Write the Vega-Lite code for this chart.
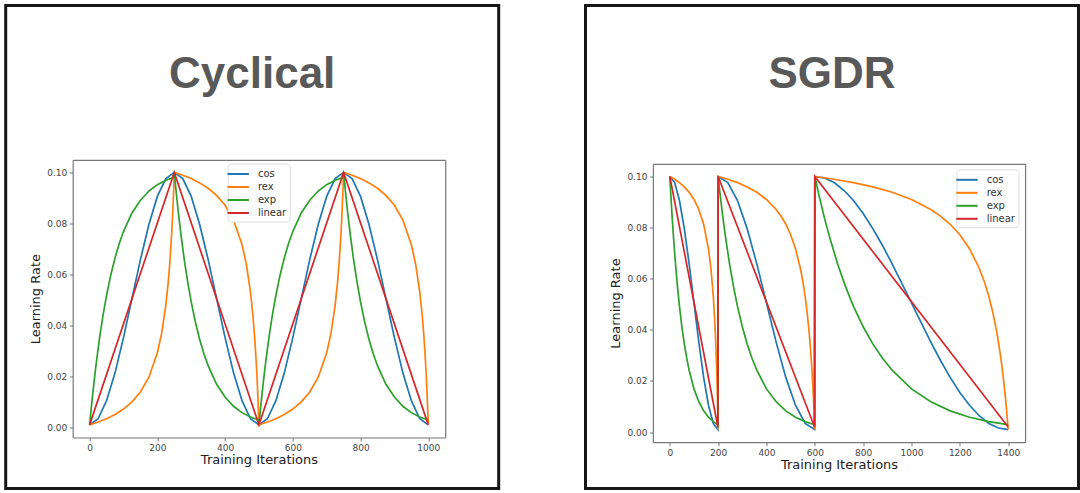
{
  "$schema": "https://vega.github.io/schema/vega-lite/v6.json",
  "background": "white",
  "padding": {"left": 3.7, "top": 3.5, "right": 0, "bottom": 0},
  "spacing": 82.8,
  "config": {
    "view": {"stroke": "#161616", "strokeWidth": 3},
    "font": "DejaVu Sans",
    "axis": {"grid": false, "domainColor": "#777777", "domainWidth": 1.2, "tickColor": "#777777", "tickSize": 3.5, "tickWidth": 1, "labelFont": "DejaVu Sans", "labelFontSize": 9, "labelColor": "#444444", "labelPadding": 2.5, "titleFont": "DejaVu Sans", "titleFontSize": 13, "titleFontWeight": "normal", "titleColor": "#222222", "titlePadding": 1},
    "legend": {"title": null, "orient": "none", "symbolType": "M-1.75,0H1.75", "symbolSize": 150, "symbolStrokeWidth": 2, "labelFont": "DejaVu Sans", "labelFontSize": 10, "labelColor": "#333333", "strokeColor": "#dddddd", "fillColor": "white", "cornerRadius": 3, "padding": 3, "rowPadding": -2.5, "labelOffset": 12.2},
    "title": {"font": "Liberation Sans", "fontSize": 44, "fontWeight": "bold", "color": "#595959", "anchor": "middle", "frame": "group", "baseline": "alphabetic", "offset": 0, "dy": 95}
  },
  "resolve": {"scale": {"color": "independent"}},
  "datasets": {
    "cyclical": [
      {"schedule": "cos", "iter": 0, "lr": 0.001}, {"schedule": "cos", "iter": 25, "lr": 0.0034}, {"schedule": "cos", "iter": 50, "lr": 0.0105}, {"schedule": "cos", "iter": 75, "lr": 0.0214}, {"schedule": "cos", "iter": 100, "lr": 0.0352}, {"schedule": "cos", "iter": 125, "lr": 0.0505}, {"schedule": "cos", "iter": 150, "lr": 0.0658}, {"schedule": "cos", "iter": 175, "lr": 0.0796}, {"schedule": "cos", "iter": 200, "lr": 0.0906}, {"schedule": "cos", "iter": 225, "lr": 0.0976}, {"schedule": "cos", "iter": 250, "lr": 0.1},
      {"schedule": "cos", "iter": 275, "lr": 0.0976}, {"schedule": "cos", "iter": 300, "lr": 0.0906}, {"schedule": "cos", "iter": 325, "lr": 0.0796}, {"schedule": "cos", "iter": 350, "lr": 0.0658}, {"schedule": "cos", "iter": 375, "lr": 0.0505}, {"schedule": "cos", "iter": 400, "lr": 0.0352}, {"schedule": "cos", "iter": 425, "lr": 0.0214}, {"schedule": "cos", "iter": 450, "lr": 0.0105}, {"schedule": "cos", "iter": 475, "lr": 0.0034}, {"schedule": "cos", "iter": 500, "lr": 0.001},
      {"schedule": "cos", "iter": 525, "lr": 0.0034}, {"schedule": "cos", "iter": 550, "lr": 0.0105}, {"schedule": "cos", "iter": 575, "lr": 0.0214}, {"schedule": "cos", "iter": 600, "lr": 0.0352}, {"schedule": "cos", "iter": 625, "lr": 0.0505}, {"schedule": "cos", "iter": 650, "lr": 0.0658}, {"schedule": "cos", "iter": 675, "lr": 0.0796}, {"schedule": "cos", "iter": 700, "lr": 0.0906}, {"schedule": "cos", "iter": 725, "lr": 0.0976}, {"schedule": "cos", "iter": 750, "lr": 0.1},
      {"schedule": "cos", "iter": 775, "lr": 0.0976}, {"schedule": "cos", "iter": 800, "lr": 0.0906}, {"schedule": "cos", "iter": 825, "lr": 0.0796}, {"schedule": "cos", "iter": 850, "lr": 0.0658}, {"schedule": "cos", "iter": 875, "lr": 0.0505}, {"schedule": "cos", "iter": 900, "lr": 0.0352}, {"schedule": "cos", "iter": 925, "lr": 0.0214}, {"schedule": "cos", "iter": 950, "lr": 0.0105}, {"schedule": "cos", "iter": 975, "lr": 0.0034}, {"schedule": "cos", "iter": 1000, "lr": 0.001},

      {"schedule": "rex", "iter": 0, "lr": 0.001}, {"schedule": "rex", "iter": 25, "lr": 0.0021}, {"schedule": "rex", "iter": 50, "lr": 0.0034}, {"schedule": "rex", "iter": 75, "lr": 0.0051}, {"schedule": "rex", "iter": 100, "lr": 0.0072}, {"schedule": "rex", "iter": 125, "lr": 0.01}, {"schedule": "rex", "iter": 150, "lr": 0.0139}, {"schedule": "rex", "iter": 175, "lr": 0.0197}, {"schedule": "rex", "iter": 200, "lr": 0.0293}, {"schedule": "rex", "iter": 212.5, "lr": 0.0368}, {"schedule": "rex", "iter": 225, "lr": 0.0479}, {"schedule": "rex", "iter": 232.5, "lr": 0.0575}, {"schedule": "rex", "iter": 237.5, "lr": 0.0659}, {"schedule": "rex", "iter": 242.5, "lr": 0.0766}, {"schedule": "rex", "iter": 245, "lr": 0.0832}, {"schedule": "rex", "iter": 247.5, "lr": 0.0909}, {"schedule": "rex", "iter": 250, "lr": 0.1},
      {"schedule": "rex", "iter": 275, "lr": 0.0989}, {"schedule": "rex", "iter": 300, "lr": 0.0976}, {"schedule": "rex", "iter": 325, "lr": 0.0959}, {"schedule": "rex", "iter": 350, "lr": 0.0938}, {"schedule": "rex", "iter": 375, "lr": 0.091}, {"schedule": "rex", "iter": 400, "lr": 0.0871}, {"schedule": "rex", "iter": 425, "lr": 0.0813}, {"schedule": "rex", "iter": 450, "lr": 0.0717}, {"schedule": "rex", "iter": 462.5, "lr": 0.0642}, {"schedule": "rex", "iter": 475, "lr": 0.0531}, {"schedule": "rex", "iter": 482.5, "lr": 0.0435}, {"schedule": "rex", "iter": 487.5, "lr": 0.0351}, {"schedule": "rex", "iter": 492.5, "lr": 0.0244}, {"schedule": "rex", "iter": 495, "lr": 0.0178}, {"schedule": "rex", "iter": 497.5, "lr": 0.0101}, {"schedule": "rex", "iter": 500, "lr": 0.001},
      {"schedule": "rex", "iter": 525, "lr": 0.0021}, {"schedule": "rex", "iter": 550, "lr": 0.0034}, {"schedule": "rex", "iter": 575, "lr": 0.0051}, {"schedule": "rex", "iter": 600, "lr": 0.0072}, {"schedule": "rex", "iter": 625, "lr": 0.01}, {"schedule": "rex", "iter": 650, "lr": 0.0139}, {"schedule": "rex", "iter": 675, "lr": 0.0197}, {"schedule": "rex", "iter": 700, "lr": 0.0293}, {"schedule": "rex", "iter": 712.5, "lr": 0.0368}, {"schedule": "rex", "iter": 725, "lr": 0.0479}, {"schedule": "rex", "iter": 732.5, "lr": 0.0575}, {"schedule": "rex", "iter": 737.5, "lr": 0.0659}, {"schedule": "rex", "iter": 742.5, "lr": 0.0766}, {"schedule": "rex", "iter": 745, "lr": 0.0832}, {"schedule": "rex", "iter": 747.5, "lr": 0.0909}, {"schedule": "rex", "iter": 750, "lr": 0.1},
      {"schedule": "rex", "iter": 775, "lr": 0.0989}, {"schedule": "rex", "iter": 800, "lr": 0.0976}, {"schedule": "rex", "iter": 825, "lr": 0.0959}, {"schedule": "rex", "iter": 850, "lr": 0.0938}, {"schedule": "rex", "iter": 875, "lr": 0.091}, {"schedule": "rex", "iter": 900, "lr": 0.0871}, {"schedule": "rex", "iter": 925, "lr": 0.0813}, {"schedule": "rex", "iter": 950, "lr": 0.0717}, {"schedule": "rex", "iter": 962.5, "lr": 0.0642}, {"schedule": "rex", "iter": 975, "lr": 0.0531}, {"schedule": "rex", "iter": 982.5, "lr": 0.0435}, {"schedule": "rex", "iter": 987.5, "lr": 0.0351}, {"schedule": "rex", "iter": 992.5, "lr": 0.0244}, {"schedule": "rex", "iter": 995, "lr": 0.0178}, {"schedule": "rex", "iter": 997.5, "lr": 0.0101}, {"schedule": "rex", "iter": 1000, "lr": 0.001},

      {"schedule": "exp", "iter": 0, "lr": 0.001}, {"schedule": "exp", "iter": 5, "lr": 0.0079}, {"schedule": "exp", "iter": 12.5, "lr": 0.0173}, {"schedule": "exp", "iter": 20, "lr": 0.0257}, {"schedule": "exp", "iter": 30, "lr": 0.0357}, {"schedule": "exp", "iter": 40, "lr": 0.0443}, {"schedule": "exp", "iter": 50, "lr": 0.0518}, {"schedule": "exp", "iter": 62.5, "lr": 0.0598}, {"schedule": "exp", "iter": 75, "lr": 0.0665}, {"schedule": "exp", "iter": 87.5, "lr": 0.0721}, {"schedule": "exp", "iter": 100, "lr": 0.0768}, {"schedule": "exp", "iter": 125, "lr": 0.0841}, {"schedule": "exp", "iter": 150, "lr": 0.0891}, {"schedule": "exp", "iter": 175, "lr": 0.0927}, {"schedule": "exp", "iter": 200, "lr": 0.0952}, {"schedule": "exp", "iter": 225, "lr": 0.0969}, {"schedule": "exp", "iter": 245, "lr": 0.0979}, {"schedule": "exp", "iter": 250, "lr": 0.1},
      {"schedule": "exp", "iter": 255, "lr": 0.0931}, {"schedule": "exp", "iter": 262.5, "lr": 0.0837}, {"schedule": "exp", "iter": 270, "lr": 0.0753}, {"schedule": "exp", "iter": 280, "lr": 0.0653}, {"schedule": "exp", "iter": 290, "lr": 0.0567}, {"schedule": "exp", "iter": 300, "lr": 0.0492}, {"schedule": "exp", "iter": 312.5, "lr": 0.0412}, {"schedule": "exp", "iter": 325, "lr": 0.0345}, {"schedule": "exp", "iter": 337.5, "lr": 0.0289}, {"schedule": "exp", "iter": 350, "lr": 0.0242}, {"schedule": "exp", "iter": 375, "lr": 0.0169}, {"schedule": "exp", "iter": 400, "lr": 0.0119}, {"schedule": "exp", "iter": 425, "lr": 0.0083}, {"schedule": "exp", "iter": 450, "lr": 0.0058}, {"schedule": "exp", "iter": 475, "lr": 0.0041}, {"schedule": "exp", "iter": 499, "lr": 0.0029},
      {"schedule": "exp", "iter": 500, "lr": 0.001}, {"schedule": "exp", "iter": 505, "lr": 0.0079}, {"schedule": "exp", "iter": 512.5, "lr": 0.0173}, {"schedule": "exp", "iter": 520, "lr": 0.0257}, {"schedule": "exp", "iter": 530, "lr": 0.0357}, {"schedule": "exp", "iter": 540, "lr": 0.0443}, {"schedule": "exp", "iter": 550, "lr": 0.0518}, {"schedule": "exp", "iter": 562.5, "lr": 0.0598}, {"schedule": "exp", "iter": 575, "lr": 0.0665}, {"schedule": "exp", "iter": 587.5, "lr": 0.0721}, {"schedule": "exp", "iter": 600, "lr": 0.0768}, {"schedule": "exp", "iter": 625, "lr": 0.0841}, {"schedule": "exp", "iter": 650, "lr": 0.0891}, {"schedule": "exp", "iter": 675, "lr": 0.0927}, {"schedule": "exp", "iter": 700, "lr": 0.0952}, {"schedule": "exp", "iter": 725, "lr": 0.0969}, {"schedule": "exp", "iter": 745, "lr": 0.0979}, {"schedule": "exp", "iter": 750, "lr": 0.1},
      {"schedule": "exp", "iter": 755, "lr": 0.0931}, {"schedule": "exp", "iter": 762.5, "lr": 0.0837}, {"schedule": "exp", "iter": 770, "lr": 0.0753}, {"schedule": "exp", "iter": 780, "lr": 0.0653}, {"schedule": "exp", "iter": 790, "lr": 0.0567}, {"schedule": "exp", "iter": 800, "lr": 0.0492}, {"schedule": "exp", "iter": 812.5, "lr": 0.0412}, {"schedule": "exp", "iter": 825, "lr": 0.0345}, {"schedule": "exp", "iter": 837.5, "lr": 0.0289}, {"schedule": "exp", "iter": 850, "lr": 0.0242}, {"schedule": "exp", "iter": 875, "lr": 0.0169}, {"schedule": "exp", "iter": 900, "lr": 0.0119}, {"schedule": "exp", "iter": 925, "lr": 0.0083}, {"schedule": "exp", "iter": 950, "lr": 0.0058}, {"schedule": "exp", "iter": 975, "lr": 0.0041}, {"schedule": "exp", "iter": 1000, "lr": 0.0029},

      {"schedule": "linear", "iter": 0, "lr": 0.001}, {"schedule": "linear", "iter": 250, "lr": 0.1}, {"schedule": "linear", "iter": 500, "lr": 0.001}, {"schedule": "linear", "iter": 750, "lr": 0.1}, {"schedule": "linear", "iter": 1000, "lr": 0.001}
    ],
    "sgdr": [
      {"schedule": "cos", "iter": 0, "lr": 0.1}, {"schedule": "cos", "iter": 20, "lr": 0.0976}, {"schedule": "cos", "iter": 40, "lr": 0.0906}, {"schedule": "cos", "iter": 60, "lr": 0.0796}, {"schedule": "cos", "iter": 80, "lr": 0.0658}, {"schedule": "cos", "iter": 100, "lr": 0.0505}, {"schedule": "cos", "iter": 120, "lr": 0.0352}, {"schedule": "cos", "iter": 140, "lr": 0.0214}, {"schedule": "cos", "iter": 160, "lr": 0.0105}, {"schedule": "cos", "iter": 180, "lr": 0.0034}, {"schedule": "cos", "iter": 199, "lr": 0.001},
      {"schedule": "cos", "iter": 200, "lr": 0.1}, {"schedule": "cos", "iter": 240, "lr": 0.0976}, {"schedule": "cos", "iter": 280, "lr": 0.0906}, {"schedule": "cos", "iter": 320, "lr": 0.0796}, {"schedule": "cos", "iter": 360, "lr": 0.0658}, {"schedule": "cos", "iter": 400, "lr": 0.0505}, {"schedule": "cos", "iter": 440, "lr": 0.0352}, {"schedule": "cos", "iter": 480, "lr": 0.0214}, {"schedule": "cos", "iter": 520, "lr": 0.0105}, {"schedule": "cos", "iter": 560, "lr": 0.0034}, {"schedule": "cos", "iter": 599, "lr": 0.001},
      {"schedule": "cos", "iter": 600, "lr": 0.1}, {"schedule": "cos", "iter": 640, "lr": 0.0994}, {"schedule": "cos", "iter": 680, "lr": 0.0976}, {"schedule": "cos", "iter": 720, "lr": 0.0946}, {"schedule": "cos", "iter": 760, "lr": 0.0906}, {"schedule": "cos", "iter": 800, "lr": 0.0855}, {"schedule": "cos", "iter": 840, "lr": 0.0796}, {"schedule": "cos", "iter": 880, "lr": 0.073}, {"schedule": "cos", "iter": 920, "lr": 0.0658}, {"schedule": "cos", "iter": 960, "lr": 0.0582}, {"schedule": "cos", "iter": 1000, "lr": 0.0505}, {"schedule": "cos", "iter": 1040, "lr": 0.0428}, {"schedule": "cos", "iter": 1080, "lr": 0.0352}, {"schedule": "cos", "iter": 1120, "lr": 0.028}, {"schedule": "cos", "iter": 1160, "lr": 0.0214}, {"schedule": "cos", "iter": 1200, "lr": 0.0155}, {"schedule": "cos", "iter": 1240, "lr": 0.0105}, {"schedule": "cos", "iter": 1280, "lr": 0.0064}, {"schedule": "cos", "iter": 1320, "lr": 0.0034}, {"schedule": "cos", "iter": 1360, "lr": 0.0016}, {"schedule": "cos", "iter": 1400, "lr": 0.001},

      {"schedule": "rex", "iter": 0, "lr": 0.1}, {"schedule": "rex", "iter": 20, "lr": 0.0989}, {"schedule": "rex", "iter": 40, "lr": 0.0976}, {"schedule": "rex", "iter": 60, "lr": 0.0959}, {"schedule": "rex", "iter": 80, "lr": 0.0938}, {"schedule": "rex", "iter": 100, "lr": 0.091}, {"schedule": "rex", "iter": 120, "lr": 0.0871}, {"schedule": "rex", "iter": 140, "lr": 0.0813}, {"schedule": "rex", "iter": 160, "lr": 0.0717}, {"schedule": "rex", "iter": 170, "lr": 0.0642}, {"schedule": "rex", "iter": 180, "lr": 0.0531}, {"schedule": "rex", "iter": 186, "lr": 0.0435}, {"schedule": "rex", "iter": 190, "lr": 0.0351}, {"schedule": "rex", "iter": 194, "lr": 0.0244}, {"schedule": "rex", "iter": 196, "lr": 0.0178}, {"schedule": "rex", "iter": 198, "lr": 0.0101}, {"schedule": "rex", "iter": 199, "lr": 0.001},
      {"schedule": "rex", "iter": 200, "lr": 0.1}, {"schedule": "rex", "iter": 240, "lr": 0.0989}, {"schedule": "rex", "iter": 280, "lr": 0.0976}, {"schedule": "rex", "iter": 320, "lr": 0.0959}, {"schedule": "rex", "iter": 360, "lr": 0.0938}, {"schedule": "rex", "iter": 400, "lr": 0.091}, {"schedule": "rex", "iter": 440, "lr": 0.0871}, {"schedule": "rex", "iter": 460, "lr": 0.0845}, {"schedule": "rex", "iter": 480, "lr": 0.0813}, {"schedule": "rex", "iter": 500, "lr": 0.0772}, {"schedule": "rex", "iter": 520, "lr": 0.0717}, {"schedule": "rex", "iter": 540, "lr": 0.0642}, {"schedule": "rex", "iter": 552, "lr": 0.0581}, {"schedule": "rex", "iter": 560, "lr": 0.0531}, {"schedule": "rex", "iter": 568, "lr": 0.047}, {"schedule": "rex", "iter": 576, "lr": 0.0396}, {"schedule": "rex", "iter": 580, "lr": 0.0351}, {"schedule": "rex", "iter": 584, "lr": 0.0301}, {"schedule": "rex", "iter": 588, "lr": 0.0244}, {"schedule": "rex", "iter": 592, "lr": 0.0178}, {"schedule": "rex", "iter": 596, "lr": 0.0101}, {"schedule": "rex", "iter": 599, "lr": 0.001},
      {"schedule": "rex", "iter": 600, "lr": 0.1}, {"schedule": "rex", "iter": 680, "lr": 0.0989}, {"schedule": "rex", "iter": 760, "lr": 0.0976}, {"schedule": "rex", "iter": 840, "lr": 0.0959}, {"schedule": "rex", "iter": 920, "lr": 0.0938}, {"schedule": "rex", "iter": 1000, "lr": 0.091}, {"schedule": "rex", "iter": 1080, "lr": 0.0871}, {"schedule": "rex", "iter": 1120, "lr": 0.0845}, {"schedule": "rex", "iter": 1160, "lr": 0.0813}, {"schedule": "rex", "iter": 1200, "lr": 0.0772}, {"schedule": "rex", "iter": 1240, "lr": 0.0717}, {"schedule": "rex", "iter": 1280, "lr": 0.0642}, {"schedule": "rex", "iter": 1304, "lr": 0.0581}, {"schedule": "rex", "iter": 1320, "lr": 0.0531}, {"schedule": "rex", "iter": 1336, "lr": 0.047}, {"schedule": "rex", "iter": 1352, "lr": 0.0396}, {"schedule": "rex", "iter": 1360, "lr": 0.0351}, {"schedule": "rex", "iter": 1368, "lr": 0.0301}, {"schedule": "rex", "iter": 1376, "lr": 0.0244}, {"schedule": "rex", "iter": 1384, "lr": 0.0178}, {"schedule": "rex", "iter": 1388, "lr": 0.0141}, {"schedule": "rex", "iter": 1392, "lr": 0.0101}, {"schedule": "rex", "iter": 1396, "lr": 0.0057}, {"schedule": "rex", "iter": 1400, "lr": 0.001},

      {"schedule": "exp", "iter": 0, "lr": 0.1}, {"schedule": "exp", "iter": 4, "lr": 0.0931}, {"schedule": "exp", "iter": 10, "lr": 0.0837}, {"schedule": "exp", "iter": 16, "lr": 0.0753}, {"schedule": "exp", "iter": 24, "lr": 0.0653}, {"schedule": "exp", "iter": 32, "lr": 0.0567}, {"schedule": "exp", "iter": 40, "lr": 0.0492}, {"schedule": "exp", "iter": 50, "lr": 0.0412}, {"schedule": "exp", "iter": 60, "lr": 0.0345}, {"schedule": "exp", "iter": 70, "lr": 0.0289}, {"schedule": "exp", "iter": 80, "lr": 0.0242}, {"schedule": "exp", "iter": 100, "lr": 0.0169}, {"schedule": "exp", "iter": 120, "lr": 0.0119}, {"schedule": "exp", "iter": 140, "lr": 0.0083}, {"schedule": "exp", "iter": 160, "lr": 0.0058}, {"schedule": "exp", "iter": 180, "lr": 0.0041}, {"schedule": "exp", "iter": 199, "lr": 0.0029},
      {"schedule": "exp", "iter": 200, "lr": 0.1}, {"schedule": "exp", "iter": 208, "lr": 0.0931}, {"schedule": "exp", "iter": 220, "lr": 0.0837}, {"schedule": "exp", "iter": 232, "lr": 0.0753}, {"schedule": "exp", "iter": 248, "lr": 0.0653}, {"schedule": "exp", "iter": 264, "lr": 0.0567}, {"schedule": "exp", "iter": 280, "lr": 0.0492}, {"schedule": "exp", "iter": 300, "lr": 0.0412}, {"schedule": "exp", "iter": 320, "lr": 0.0345}, {"schedule": "exp", "iter": 340, "lr": 0.0289}, {"schedule": "exp", "iter": 360, "lr": 0.0242}, {"schedule": "exp", "iter": 400, "lr": 0.0169}, {"schedule": "exp", "iter": 440, "lr": 0.0119}, {"schedule": "exp", "iter": 480, "lr": 0.0083}, {"schedule": "exp", "iter": 520, "lr": 0.0058}, {"schedule": "exp", "iter": 560, "lr": 0.0041}, {"schedule": "exp", "iter": 599, "lr": 0.0029},
      {"schedule": "exp", "iter": 600, "lr": 0.1}, {"schedule": "exp", "iter": 616, "lr": 0.0931}, {"schedule": "exp", "iter": 640, "lr": 0.0837}, {"schedule": "exp", "iter": 664, "lr": 0.0753}, {"schedule": "exp", "iter": 696, "lr": 0.0653}, {"schedule": "exp", "iter": 728, "lr": 0.0567}, {"schedule": "exp", "iter": 760, "lr": 0.0492}, {"schedule": "exp", "iter": 800, "lr": 0.0412}, {"schedule": "exp", "iter": 840, "lr": 0.0345}, {"schedule": "exp", "iter": 880, "lr": 0.0289}, {"schedule": "exp", "iter": 920, "lr": 0.0242}, {"schedule": "exp", "iter": 1000, "lr": 0.0169}, {"schedule": "exp", "iter": 1080, "lr": 0.0119}, {"schedule": "exp", "iter": 1160, "lr": 0.0083}, {"schedule": "exp", "iter": 1240, "lr": 0.0058}, {"schedule": "exp", "iter": 1320, "lr": 0.0041}, {"schedule": "exp", "iter": 1400, "lr": 0.0029},

      {"schedule": "linear", "iter": 0, "lr": 0.1}, {"schedule": "linear", "iter": 199, "lr": 0.002}, {"schedule": "linear", "iter": 200, "lr": 0.1}, {"schedule": "linear", "iter": 599, "lr": 0.002}, {"schedule": "linear", "iter": 600, "lr": 0.1}, {"schedule": "linear", "iter": 1400, "lr": 0.002}
    ]
  },
  "hconcat": [
    {
      "width": 493,
      "height": 483,
      "title": {"text": "Cyclical"},
      "data": {"name": "cyclical"},
      "resolve": {"axis": {"x": "independent", "y": "independent"}},
      "layer": [
        {
          "mark": {"type": "line", "strokeWidth": 1.7},
          "encoding": {
            "x": {"field": "iter", "type": "quantitative", "scale": {"domain": [-50, 1050], "range": [67, 439.5], "nice": false, "zero": false}, "axis": {"orient": "bottom", "offset": -51, "values": [0, 200, 400, 600, 800, 1000], "format": "d", "title": "Training Iterations"}},
            "y": {"field": "lr", "type": "quantitative", "scale": {"domain": [-0.00395, 0.10495], "range": [432, 154.3], "nice": false, "zero": false}, "axis": {"orient": "left", "offset": -67, "values": [0, 0.02, 0.04, 0.06, 0.08, 0.1], "format": ".2f", "title": "Learning Rate", "titlePadding": 4}},
            "color": {"field": "schedule", "type": "nominal", "scale": {"domain": ["cos", "rex", "exp", "linear"], "range": ["#1f77b4", "#ff7f0e", "#2ca02c", "#d62728"]}, "legend": {"legendX": 222, "legendY": 158}}
          }
        },
        {
          "mark": {"type": "line", "opacity": 0},
          "encoding": {
            "x": {"field": "iter", "type": "quantitative", "axis": {"orient": "top", "offset": -154.3, "ticks": false, "labels": false, "title": null}},
            "y": {"field": "lr", "type": "quantitative", "axis": {"orient": "right", "offset": -53.5, "ticks": false, "labels": false, "title": null}}
          }
        }
      ]
    },
    {
      "width": 493,
      "height": 483,
      "title": {"text": "SGDR"},
      "data": {"name": "sgdr"},
      "resolve": {"axis": {"x": "independent", "y": "independent"}},
      "layer": [
        {
          "mark": {"type": "line", "strokeWidth": 1.7},
          "encoding": {
            "x": {"field": "iter", "type": "quantitative", "scale": {"domain": [-70, 1470], "range": [67.4, 439.6], "nice": false, "zero": false}, "axis": {"orient": "bottom", "offset": -46.3, "values": [0, 200, 400, 600, 800, 1000, 1200, 1400], "format": "d", "title": "Training Iterations"}},
            "y": {"field": "lr", "type": "quantitative", "scale": {"domain": [-0.00395, 0.10495], "range": [436.7, 158.3], "nice": false, "zero": false}, "axis": {"orient": "left", "offset": -67.4, "values": [0, 0.02, 0.04, 0.06, 0.08, 0.1], "format": ".2f", "title": "Learning Rate", "titlePadding": 4}},
            "color": {"field": "schedule", "type": "nominal", "scale": {"domain": ["cos", "rex", "exp", "linear"], "range": ["#1f77b4", "#ff7f0e", "#2ca02c", "#d62728"]}, "legend": {"legendX": 371, "legendY": 163.8}}
          }
        },
        {
          "mark": {"type": "line", "opacity": 0},
          "encoding": {
            "x": {"field": "iter", "type": "quantitative", "axis": {"orient": "top", "offset": -158.3, "ticks": false, "labels": false, "title": null}},
            "y": {"field": "lr", "type": "quantitative", "axis": {"orient": "right", "offset": -53.4, "ticks": false, "labels": false, "title": null}}
          }
        }
      ]
    }
  ]
}
